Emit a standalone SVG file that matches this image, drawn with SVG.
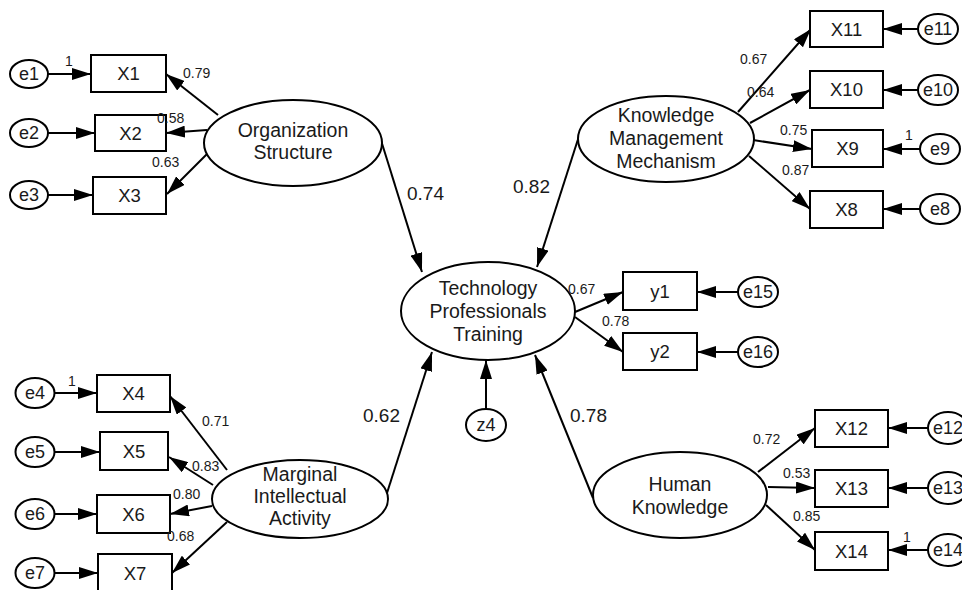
<svg xmlns="http://www.w3.org/2000/svg" width="962" height="590" viewBox="0 0 962 590">
<style>
text{font-family:"Liberation Sans",Arial,sans-serif;fill:#1a1a1a}
.lat{fill:#fff;stroke:#000;stroke-width:2}
.box{fill:#fff;stroke:#000;stroke-width:2}
.err{fill:#fff;stroke:#000;stroke-width:2}
.nl{font-size:19.5px;text-anchor:middle}
.bl{font-size:18.5px;text-anchor:middle}
.el{font-size:18px;text-anchor:middle}
.sm{font-size:14px}
.bg{font-size:19px}
.c line{stroke:#000;stroke-width:2;marker-end:url(#ah)}
</style>
<defs>
<marker id="ah" markerUnits="userSpaceOnUse" markerWidth="19" markerHeight="12" refX="19" refY="6" orient="auto">
<path d="M0,0 L19,6 L0,12 z" fill="#000"/>
</marker>
</defs>
<rect width="962" height="590" fill="#fff"/>

<g class="c" id="connectors">
<line x1="48" y1="74" x2="91" y2="74"/>
<line x1="48" y1="133" x2="95" y2="133"/>
<line x1="48" y1="195" x2="93" y2="195"/>
<line x1="218" y1="115" x2="166" y2="74"/>
<line x1="207" y1="130" x2="166" y2="133"/>
<line x1="208" y1="153" x2="167" y2="194"/>
<line x1="380" y1="137" x2="422" y2="272"/>
<line x1="918" y1="29" x2="883" y2="29"/>
<line x1="918" y1="90" x2="883" y2="90"/>
<line x1="920" y1="149" x2="883" y2="149"/>
<line x1="920" y1="209" x2="883" y2="209"/>
<line x1="738" y1="112" x2="811" y2="29"/>
<line x1="750" y1="123" x2="810" y2="90"/>
<line x1="753" y1="140" x2="812" y2="149"/>
<line x1="749" y1="156" x2="810" y2="209"/>
<line x1="580" y1="133" x2="537" y2="267"/>
<line x1="575" y1="312" x2="623" y2="292"/>
<line x1="575" y1="317" x2="623" y2="352"/>
<line x1="738" y1="292" x2="697" y2="292"/>
<line x1="738" y1="352" x2="697" y2="352"/>
<line x1="486" y1="409" x2="486" y2="360"/>
<line x1="55" y1="393" x2="97" y2="393"/>
<line x1="55" y1="452" x2="100" y2="452"/>
<line x1="55" y1="514" x2="97" y2="514"/>
<line x1="55" y1="573" x2="98" y2="573"/>
<line x1="227" y1="470" x2="170" y2="396"/>
<line x1="213" y1="485" x2="169" y2="457"/>
<line x1="212" y1="506" x2="170" y2="514"/>
<line x1="227" y1="522" x2="172" y2="573"/>
<line x1="387" y1="493" x2="432" y2="352"/>
<line x1="928" y1="428" x2="888" y2="428"/>
<line x1="928" y1="488" x2="888" y2="488"/>
<line x1="928" y1="550" x2="888" y2="550"/>
<line x1="758" y1="472" x2="815" y2="428"/>
<line x1="768" y1="487" x2="815" y2="488"/>
<line x1="766" y1="505" x2="815" y2="550"/>
<line x1="593" y1="498" x2="535" y2="355"/>
</g>

<g id="OS">
<ellipse class="lat" cx="293" cy="143" rx="89" ry="43"/>
<text class="nl" x="293" y="137">Organization</text>
<text class="nl" x="293" y="159">Structure</text>
</g>
<g id="KMM">
<ellipse class="lat" cx="666" cy="139" rx="88" ry="43"/>
<text class="nl" x="666" y="122">Knowledge</text>
<text class="nl" x="666" y="145">Management</text>
<text class="nl" x="666" y="168">Mechanism</text>
</g>
<g id="TPT">
<ellipse class="lat" cx="488" cy="311" rx="87" ry="49"/>
<text class="nl" x="488" y="295">Technology</text>
<text class="nl" x="488" y="318">Professionals</text>
<text class="nl" x="488" y="341">Training</text>
</g>
<g id="MIA">
<ellipse class="lat" cx="300" cy="499" rx="88" ry="39"/>
<text class="nl" x="300" y="481">Marginal</text>
<text class="nl" x="300" y="503">Intellectual</text>
<text class="nl" x="300" y="525">Activity</text>
</g>
<g id="HK">
<ellipse class="lat" cx="680" cy="495" rx="87" ry="43"/>
<text class="nl" x="680" y="491">Human</text>
<text class="nl" x="680" y="514">Knowledge</text>
</g>

<g id="X1"><rect class="box" x="91" y="55" width="75" height="37"/><text class="bl" x="128.5" y="80">X1</text></g>
<g id="X2"><rect class="box" x="95" y="115" width="71" height="36"/><text class="bl" x="130.5" y="140">X2</text></g>
<g id="X3"><rect class="box" x="93" y="177" width="73" height="37"/><text class="bl" x="129.5" y="202">X3</text></g>
<g id="X11"><rect class="box" x="810" y="11" width="73" height="36"/><text class="bl" x="846.5" y="36">X11</text></g>
<g id="X10"><rect class="box" x="810" y="71" width="73" height="37"/><text class="bl" x="846.5" y="96">X10</text></g>
<g id="X9"><rect class="box" x="812" y="130" width="71" height="37"/><text class="bl" x="847.5" y="155">X9</text></g>
<g id="X8"><rect class="box" x="810" y="191" width="73" height="37"/><text class="bl" x="846.5" y="216">X8</text></g>
<g id="y1"><rect class="box" x="623" y="272" width="74" height="38"/><text class="bl" x="660" y="298">y1</text></g>
<g id="y2"><rect class="box" x="623" y="333" width="74" height="37"/><text class="bl" x="660" y="358">y2</text></g>
<g id="X4"><rect class="box" x="97" y="375" width="73" height="37"/><text class="bl" x="133.5" y="400">X4</text></g>
<g id="X5"><rect class="box" x="100" y="432" width="68" height="38"/><text class="bl" x="134" y="458">X5</text></g>
<g id="X6"><rect class="box" x="97" y="495" width="73" height="38"/><text class="bl" x="133.5" y="521">X6</text></g>
<g id="X7"><rect class="box" x="98" y="554" width="74" height="37"/><text class="bl" x="135" y="580">X7</text></g>
<g id="X12"><rect class="box" x="815" y="410" width="73" height="37"/><text class="bl" x="851.5" y="435">X12</text></g>
<g id="X13"><rect class="box" x="815" y="470" width="73" height="37"/><text class="bl" x="851.5" y="495">X13</text></g>
<g id="X14"><rect class="box" x="815" y="532" width="73" height="38"/><text class="bl" x="851.5" y="558">X14</text></g>

<g id="e1"><ellipse class="err" cx="29" cy="74" rx="19" ry="14"/><text class="el" x="29" y="80">e1</text></g>
<g id="e2"><ellipse class="err" cx="29" cy="133" rx="19" ry="14"/><text class="el" x="29" y="139">e2</text></g>
<g id="e3"><ellipse class="err" cx="29" cy="195" rx="19" ry="14"/><text class="el" x="29" y="201">e3</text></g>
<g id="e11"><ellipse class="err" cx="938" cy="29" rx="20" ry="15"/><text class="el" x="938" y="35">e11</text></g>
<g id="e10"><ellipse class="err" cx="938" cy="90" rx="20" ry="15"/><text class="el" x="938" y="96">e10</text></g>
<g id="e9"><ellipse class="err" cx="940" cy="149" rx="20" ry="15"/><text class="el" x="940" y="155">e9</text></g>
<g id="e8"><ellipse class="err" cx="940" cy="209" rx="20" ry="15"/><text class="el" x="940" y="215">e8</text></g>
<g id="e15"><ellipse class="err" cx="758" cy="292" rx="20" ry="15"/><text class="el" x="758" y="298">e15</text></g>
<g id="e16"><ellipse class="err" cx="758" cy="352" rx="20" ry="15"/><text class="el" x="758" y="358">e16</text></g>
<g id="z4"><ellipse class="err" cx="486" cy="425" rx="20" ry="16"/><text class="el" x="486" y="431">z4</text></g>
<g id="e4"><ellipse class="err" cx="35" cy="393" rx="19.5" ry="15"/><text class="el" x="35" y="399">e4</text></g>
<g id="e5"><ellipse class="err" cx="35" cy="452" rx="19.5" ry="15"/><text class="el" x="35" y="458">e5</text></g>
<g id="e6"><ellipse class="err" cx="35" cy="514" rx="19.5" ry="15"/><text class="el" x="35" y="520">e6</text></g>
<g id="e7"><ellipse class="err" cx="35" cy="573" rx="19.5" ry="15"/><text class="el" x="35" y="579">e7</text></g>
<g id="e12"><ellipse class="err" cx="948" cy="428" rx="20" ry="16"/><text class="el" x="948" y="434">e12</text></g>
<g id="e13"><ellipse class="err" cx="948" cy="488" rx="20" ry="16"/><text class="el" x="948" y="494">e13</text></g>
<g id="e14"><ellipse class="err" cx="948" cy="550" rx="20" ry="16"/><text class="el" x="948" y="556">e14</text></g>

<g id="labels">
<text class="sm" x="65" y="66">1</text>
<text class="sm" x="183" y="78">0.79</text>
<text class="sm" x="157" y="123">0.58</text>
<text class="sm" x="152" y="167">0.63</text>
<text class="bg" x="407" y="200">0.74</text>
<text class="bg" x="513" y="193">0.82</text>
<text class="sm" x="740" y="64">0.67</text>
<text class="sm" x="747" y="97">0.64</text>
<text class="sm" x="780" y="135">0.75</text>
<text class="sm" x="782" y="175">0.87</text>
<text class="sm" x="905" y="140">1</text>
<text class="sm" x="568" y="294">0.67</text>
<text class="sm" x="602" y="326">0.78</text>
<text class="bg" x="363" y="422">0.62</text>
<text class="bg" x="570" y="422">0.78</text>
<text class="sm" x="68" y="386">1</text>
<text class="sm" x="202" y="426">0.71</text>
<text class="sm" x="192" y="471">0.83</text>
<text class="sm" x="173" y="499">0.80</text>
<text class="sm" x="167" y="541">0.68</text>
<text class="sm" x="753" y="444">0.72</text>
<text class="sm" x="783" y="478">0.53</text>
<text class="sm" x="793" y="521">0.85</text>
<text class="sm" x="903" y="542">1</text>
</g>
</svg>
